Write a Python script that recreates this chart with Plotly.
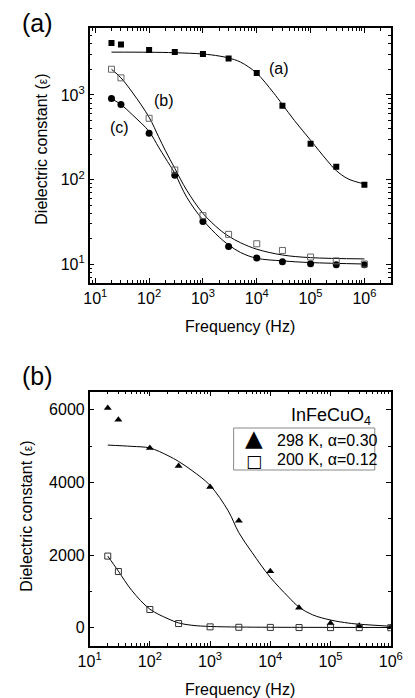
import plotly.graph_objects as go

# page body has an 8px default margin: the figure is placed 8px right/down
OFF = 8
FW, FH = 407, 690
FONT = "Liberation Sans, Arial, sans-serif"

# ---------------- Panel (a) data ----------------
freq_a = [20, 30, 100, 300, 1e3, 3e3, 1e4, 3e4, 1e5, 3e5, 1e6]
eps_sq = [4110, 3930, 3380, 3220, 3050, 2690, 1820, 745, 266, 142, 87]
eps_open = [2010, 1590, 530, 130, 37.6, 22.6, 17.5, 14.6, 12.2, 11.0, 10.1]
eps_circ = [905, 770, 353, 113, 32, 16.2, 11.9, 10.7, 10.2, 9.9, 9.9]

fit_a_f = [20, 100, 300, 1e3, 2e3, 3e3, 5e3, 1e4, 2e4, 3e4, 5e4, 1e5, 2e5, 3e5, 5e5, 1e6]
fit_a_e = [3200, 3190, 3150, 3040, 2880, 2730, 2440, 1800, 1080, 770, 500, 292, 170, 128, 102, 89]

fit_b_f = [20, 30, 50, 100, 150, 200, 300, 500, 1e3, 2e3, 3e3, 5e3, 1e4, 3e4, 1e5, 1e6]
fit_b_e = [2010, 1590, 1050, 545, 321, 221, 136, 75, 40, 26, 21.5, 18, 15.1, 12.9, 12.0, 11.6]

fit_c_f = [20, 30, 50, 100, 150, 200, 300, 500, 1e3, 2e3, 3e3, 5e3, 1e4, 3e4, 1e5, 1e6]
fit_c_e = [905, 770, 575, 370, 242, 180, 119, 62, 33.4, 21, 17, 13.8, 11.8, 11.0, 10.5, 10.1]

# ---------------- Panel (b) data ----------------
freq_b = [20, 30, 100, 300, 1e3, 3e3, 1e4, 3e4, 1e5, 3e5, 1e6]
eps_298 = [6050, 5730, 4950, 4455, 3880, 2950, 1555, 550, 125, 55, 15]
eps_200 = [1975, 1550, 505, 118, 27, 15, 12, 8, 6, 5, 3]

fit_298_f = [20, 50, 100, 200, 300, 500, 1e3, 2e3, 3e3, 5e3, 1e4, 2e4, 3e4, 5e4, 1e5, 2e5, 3e5, 1e6]
fit_298_e = [5030, 4995, 4950, 4740, 4580, 4330, 3920, 3220, 2620, 2070, 1390, 850, 570, 360, 215, 130, 100, 44]

fit_200_f = [20, 30, 50, 100, 200, 300, 500, 1e3, 3e3, 1e4, 1e5, 1e6]
fit_200_e = [1975, 1560, 1030, 515, 250, 135, 70, 38, 22, 16, 12, 10]

legend_labels = ["298 K, \u03b1=0.30", "200 K, \u03b1=0.12"]
legend_title = "InFeCuO<sub>4</sub>"
log_tickvals = [10, 100, 1000, 1e4, 1e5, 1e6]
log_ticktext = ["10<sup>%d</sup>" % k for k in range(1, 7)]
y_log_tickvals = [10, 100, 1000]
y_log_ticktext = ["10<sup>1</sup>", "10<sup>2</sup>", "10<sup>3</sup>"]
lin_tickvals = [0, 2000, 4000, 6000]
minor_log = [d * 10 ** k for k in range(0, 7) for d in range(2, 10)]


def px(x):
    return (x - OFF) / FW


def py(y):
    return 1 - (y - OFF) / FH


fig = go.Figure()
line_style = dict(color="black", width=1, shape="spline")


def add_line(xs, ys, xa, ya):
    fig.add_trace(go.Scatter(x=xs, y=ys, mode="lines", line=line_style,
                             xaxis=xa, yaxis=ya, showlegend=False, hoverinfo="skip"))


def add_markers(xs, ys, marker, xa, ya):
    fig.add_trace(go.Scatter(x=xs, y=ys, mode="markers", marker=marker,
                             xaxis=xa, yaxis=ya, showlegend=False))


# panel (a)
add_line(fit_a_f, fit_a_e, "x", "y")
add_line(fit_b_f, fit_b_e, "x", "y")
add_line(fit_c_f, fit_c_e, "x", "y")
add_markers(freq_a, eps_sq, dict(symbol="square", size=6, color="black"), "x", "y")
add_markers(freq_a, eps_circ, dict(symbol="circle", size=7, color="black"), "x", "y")
add_markers(freq_a, eps_open, dict(symbol="square-open", size=6, color="#666666", line=dict(width=1)), "x", "y")

# panel (b)
add_line(fit_298_f, fit_298_e, "x2", "y2")
add_line(fit_200_f, fit_200_e, "x2", "y2")
add_markers(freq_b, eps_298, dict(symbol="triangle-up", size=7, color="black"), "x2", "y2")
add_markers(freq_b, eps_200, dict(symbol="square-open", size=6, color="#333333", line=dict(width=1)), "x2", "y2")

axis_common = dict(showline=True, linewidth=1.5, linecolor="black", mirror="allticks",
                   ticks="inside", ticklen=5, tickwidth=1, tickcolor="black",
                   showgrid=False, zeroline=False,
                   tickfont=dict(family=FONT, size=16, color="black"))
minor_log_style = dict(tickvals=minor_log, ticks="inside", ticklen=3, tickwidth=1,
                       tickcolor="black", showgrid=False)

fig.update_layout(
    width=FW, height=FH,
    margin=dict(l=0, r=0, t=0, b=0),
    paper_bgcolor="white", plot_bgcolor="white",
    font=dict(family=FONT, size=16, color="black"),
    showlegend=False,
    xaxis=dict(type="log", domain=[px(82), px(402)], anchor="y",
               range=[0.895, 6.49], tickmode="array", tickvals=log_tickvals, ticktext=log_ticktext,
               minor=minor_log_style, **axis_common),
    yaxis=dict(type="log", domain=[py(283), py(28)], anchor="x",
               range=[0.78, 3.79], tickmode="array", tickvals=y_log_tickvals, ticktext=y_log_ticktext,
               minor=minor_log_style, **axis_common),
    xaxis2=dict(type="log", domain=[px(82), px(402)], anchor="y2",
                range=[1, 6], tickmode="array", tickvals=log_tickvals, ticktext=log_ticktext,
                minor=minor_log_style, **axis_common),
    yaxis2=dict(domain=[py(646), py(391.7)], anchor="x2",
                range=[-500, 6500], tickmode="array", tickvals=lin_tickvals,
                minor=dict(dtick=1000, ticks="inside", ticklen=3, tickwidth=1, tickcolor="black",
                           showgrid=False),
                **axis_common),
)


def ann(text, x, y, size, family=FONT, **kw):
    d = dict(text=text, x=px(x), y=py(y), xref="paper", yref="paper", showarrow=False,
             font=dict(family=family, size=size, color="black"), xanchor="center", yanchor="middle")
    d.update(kw)
    return d


ytitle = "Dielectric constant (<span style='font-size:12px'>\u03b5</span>)"
fig.update_layout(
    annotations=[
        ann("(a)", 27, 23, 25),
        ann("(b)", 27, 376, 25),
        ann("(a)", 283.5, 68.5, 16),
        ann("(b)", 160.5, 100.5, 16),
        ann("(c)", 113.5, 127.5, 16),
        ann("Frequency (Hz)", 241.5, 326, 16),
        ann("Frequency (Hz)", 241.5, 689, 16),
        ann(ytitle, 30, 149, 16, textangle=-90),
        ann(ytitle, 14, 516, 16, textangle=-90),
        ann(legend_title, 383, 416, 18, xanchor="right"),
        # legend entries
        ann("\u25b2", 257, 438, 23, family="DejaVu Sans"),
        ann("\u25a1", 257, 461, 17, family="DejaVu Sans"),
        ann(legend_labels[0], 279, 440, 16, xanchor="left"),
        ann(legend_labels[1], 279, 460, 16, xanchor="left"),
    ],
    shapes=[
        dict(type="rect", xref="paper", yref="paper",
             x0=px(235), x1=px(385), y0=py(470), y1=py(428),
             line=dict(color="#888888", width=1), fillcolor="white", layer="above"),
    ],
)

fig.write_html("out.html")
